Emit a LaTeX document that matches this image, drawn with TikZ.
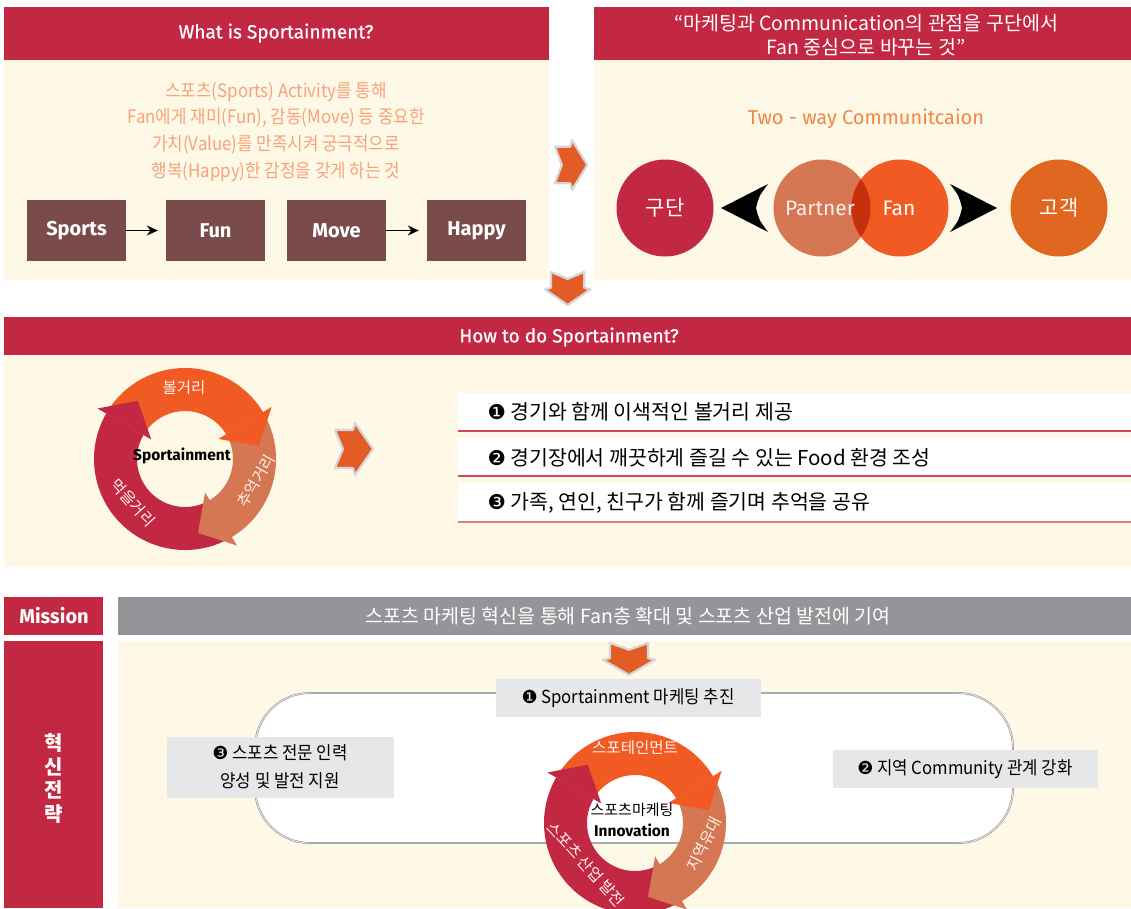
\documentclass[tikz,border=0pt]{standalone}
\usepackage{fontspec}
\setmainfont{Noto Sans CJK KR}
\newfontfamily\kr{Noto Sans CJK KR}
\newfontfamily\krc[FakeStretch=0.91]{Noto Sans CJK KR}
\newfontfamily\krd[FakeStretch=0.93]{Noto Sans CJK KR}
\newfontfamily\din{Fira Sans}
\newfontfamily\dinh[FakeBold=0.7]{Fira Sans}
\newfontfamily\dsym{DejaVu Sans}
\usetikzlibrary{arrows.meta,calc}
\definecolor{crim}{HTML}{C32843}
\definecolor{cream}{HTML}{FEF8E6}
\definecolor{brownc}{HTML}{7A4B4B}
\definecolor{orng}{HTML}{F15A22}
\definecolor{salm}{HTML}{D57752}
\definecolor{gold}{HTML}{DF671F}
\definecolor{chevc}{HTML}{E35B25}
\definecolor{txtsalm}{HTML}{F5A37D}
\definecolor{twoway}{HTML}{F08846}
\definecolor{overlapc}{HTML}{C6300E}
\definecolor{barg}{HTML}{939598}
\definecolor{boxg}{HTML}{E6E7E8}
\definecolor{listl}{HTML}{D24458}
\tikzset{
  hdr/.style={text=white, font=\dinh\fontsize{19}{22}\selectfont},
  brownbox/.style={fill=brownc, minimum width=99pt, minimum height=61pt, inner sep=0pt, text=white, font=\din\bfseries\fontsize{20}{23}\selectfont},
  circ/.style={circle, minimum size=97pt, inner sep=0pt, text=white, font=\kr\fontsize{21}{24}\selectfont},
  bodytxt/.style={text=txtsalm, font=\krc\fontsize{18.5}{21}\selectfont},
  listtxt/.style={anchor=west, text=black, font=\kr\fontsize{20.5}{23}\selectfont},
  boxtxt/.style={text=black, font=\krd\fontsize{18}{21}\selectfont, align=center},
  ringlbl/.style={text=white!92!orng, inner sep=0pt, font=\kr\fontsize{15.5}{18}\selectfont},
  greybox/.style={fill=boxg},
  chevstyle/.style={fill=chevc, draw=black!16, line width=2.2pt, line join=round},
  blackarrow/.style={-{Stealth[length=11pt,width=10pt]}, line width=1.2pt, shorten >=8pt},
  track/.style={fill=white, draw=black!45, double=black!10, double distance=0.9pt, line width=0.5pt, rounded corners=55pt},
  chevR/.pic={\path[chevstyle] (0,-7) -- (18,-7) -- (20,0) -- (38,-26) -- (20,-52) -- (18,-45) -- (0,-45) -- (8,-26) -- cycle;},
  chevD/.pic={\path[chevstyle] (7,0) -- (7,-18) -- (0,-20) -- (26,-38) -- (52,-20) -- (45,-18) -- (45,0) -- (26,-8) -- cycle;},
  cyc/.pic={
    \fill[orng] (150:91) arc[start angle=150,end angle=31,radius=91] -- (31:48) arc[start angle=31,end angle=150,radius=48] -- cycle;
    \fill[salm] (31:91) arc[start angle=31,end angle=-59,radius=91] -- (-59:48) arc[start angle=-59,end angle=31,radius=48] -- cycle;
    \fill[crim] (-59:91) arc[start angle=-59,end angle=-210,radius=91] -- (-210:48) arc[start angle=-210,end angle=-59,radius=48] -- cycle;
    \fill[orng] (31:39) -- (31:101) -- (10:75) -- cycle;
    \fill[salm] (-59:39) -- (-59:101) -- (-80:75) -- cycle;
    \fill[crim] (150:39) -- (150:101) -- (129:75) -- cycle;
  }
}
\begin{document}
\begin{tikzpicture}[x=1pt,y=1pt]
\useasboundingbox (0,0) rectangle (1131,-908);
\fill[white] (0,0) rectangle (1131,-908);

% ===== Section 1 left =====
\fill[crim] (4,-7) rectangle (549,-60);
\node[hdr] (t1) at (276,-33) {What is Sportainment?};
\fill[cream] (4,-60) rectangle (549,-280);
\node[bodytxt] (l1) at (276,-92) {스포츠(Sports) Activity를 통해};
\node[bodytxt] (l2) at (276,-118) {Fan에게 재미(Fun), 감동(Move) 등 중요한};
\node[bodytxt] (l3) at (276,-145) {가치(Value)를 만족시켜 궁극적으로};
\node[bodytxt] (l4) at (276,-172) {행복(Happy)한 감정을 갖게 하는 것};
\node[brownbox] (sp) at (76.5,-230.5) {Sports};
\node[brownbox] (fun) at (215.5,-230.5) {Fun};
\node[brownbox] (mv) at (336.5,-230.5) {Move};
\node[brownbox] (hp) at (476.5,-230.5) {Happy};
\draw[blackarrow] (sp) -- (fun);
\draw[blackarrow] (mv) -- (hp);

\pic at (555,-140) [xscale=0.85,yscale=0.96] {chevR};

% ===== Section 1 right =====
\fill[crim] (594,-7) rectangle (1131,-60);
\node[text=white, font=\kr\fontsize{19.5}{22}\selectfont] (t2a) at (866,-23) {“마케팅과 Communication의 관점을 구단에서};
\node[text=white, font=\kr\fontsize{19.5}{22}\selectfont] (t2b) at (866,-47) {Fan 중심으로 바꾸는 것”};
\fill[cream] (594,-60) rectangle (1131,-280);
\node[text=twoway, font=\din\fontsize{20}{23}\selectfont] (tw) at (866,-119) {Two - way Communitcaion};

\node[circ, fill=crim] (gudan) at (665,-208) {구단};
\node[circ, fill=salm] (partner) at (822,-208) {};
\node[circ, fill=orng] (fan) at (900,-208) {};
\begin{scope}
  \clip (822,-208) circle (48.5);
  \fill[overlapc] (900,-208) circle (48.5);
\end{scope}
\node[text=white!88!salm, font=\din\fontsize{21}{24}\selectfont] (ptxt) at (820,-208) {Partner};
\node[text=white, font=\din\fontsize{21}{24}\selectfont] (ftxt) at (899,-208) {Fan};
\node[circ, fill=gold] (gogaek) at (1059,-208) {고객};
\fill[black] (721,-208) -- (768,-184) .. controls (759,-196) .. (756,-208) .. controls (759,-220) .. (768,-232) -- cycle;
\fill[black] (997,-208) -- (950,-184) .. controls (959,-196) .. (962,-208) .. controls (959,-220) .. (950,-232) -- cycle;

\pic at (545,-272) [xscale=0.87,yscale=0.87] {chevD};

% ===== Section 2 =====
\fill[crim] (4,-317) rectangle (1131,-355);
\node[hdr] (t3) at (569,-337) {How to do Sportainment?};
\fill[cream] (4,-355) rectangle (1131,-567);

\pic at (185,-459) {cyc};
\node[ringlbl] (c1a) at (184,-388) {볼거리};
\node[ringlbl, rotate=60] (c1b) at (256,-481) {추억거리};
\node[ringlbl, rotate=-48] (c1c) at (133,-503) {먹을거리};
\node[inner sep=0pt, font=\din\bfseries\fontsize{15.5}{17}\selectfont] (c1m) at (182,-456) {Sportainment};

\pic at (335,-423) {chevR};

\fill[white] (458,-393) rectangle (1131,-431);
\fill[white] (458,-438) rectangle (1131,-476);
\fill[white] (458,-483) rectangle (1131,-522);
\draw[listl, line width=1.4pt] (458,-431) -- (1131,-431);
\draw[listl, line width=1.4pt] (458,-476) -- (1131,-476);
\draw[listl!70, line width=1.8pt] (458,-522) -- (1131,-522);
\node[listtxt] (li1) at (484,-412) {{\dsym ❶} 경기와 함께 이색적인 볼거리 제공};
\node[listtxt] (li2) at (484,-458) {{\dsym ❷} 경기장에서 깨끗하게 즐길 수 있는 Food 환경 조성};
\node[listtxt] (li3) at (484,-503) {{\dsym ❸} 가족, 연인, 친구가 함께 즐기며 추억을 공유};

% ===== Section 3 =====
\fill[crim] (4,-597) rectangle (103,-635);
\node[text=white, font=\din\bfseries\fontsize{20}{23}\selectfont] (mis) at (54,-616) {Mission};
\fill[barg] (118,-597) rectangle (1131,-635);
\node[text=white, font=\kr\fontsize{19.5}{22}\selectfont] (mtx) at (628,-616) {스포츠 마케팅 혁신을 통해 Fan층 확대 및 스포츠 산업 발전에 기여};
\fill[crim] (4,-641) rectangle (103,-908);
\node[text=white, font=\kr\bfseries\fontsize{20}{23}\selectfont] (s1) at (54,-743) {혁};
\node[text=white, font=\kr\bfseries\fontsize{20}{23}\selectfont] (s2) at (54,-767) {신};
\node[text=white, font=\kr\bfseries\fontsize{20}{23}\selectfont] (s3) at (54,-790) {전};
\node[text=white, font=\kr\bfseries\fontsize{20}{23}\selectfont] (s4) at (54,-814) {략};
\fill[cream] (118,-641) rectangle (1131,-908);

\draw[track] (255,-693) rectangle (1013,-843);
\pic at (603,-643) [yscale=0.84] {chevD};

\fill[greybox] (496,-679) rectangle (761,-717);
\node[boxtxt] (b1) at (628,-698) {{\dsym ❶} Sportainment 마케팅 추진};
\fill[greybox] (167,-737) rectangle (394,-798);
\node[boxtxt] (b3a) at (280,-753) {{\dsym ❸} 스포츠 전문 인력};
\node[boxtxt] (b3b) at (280,-781) {양성 및 발전 지원};
\fill[greybox] (833,-750) rectangle (1098,-788);
\node[boxtxt] (b2) at (965,-769) {{\dsym ❷} 지역 Community 관계 강화};

\pic at (635,-823) {cyc};
\node[ringlbl] (c2a) at (635,-748) {스포테인먼트};
\node[ringlbl, rotate=63] (c2b) at (704,-844) {지역유대};
\node[ringlbl, rotate=-48] (c2c) at (586,-864) {스포츠 산업 발전};
\node[inner sep=0pt, font=\kr\fontsize{15}{17}\selectfont] (c2m) at (632,-810) {스포츠마케팅};
\node[inner sep=0pt, font=\din\bfseries\fontsize{15.5}{17}\selectfont] (c2n) at (632,-830) {Innovation};
\end{tikzpicture}
\end{document}
